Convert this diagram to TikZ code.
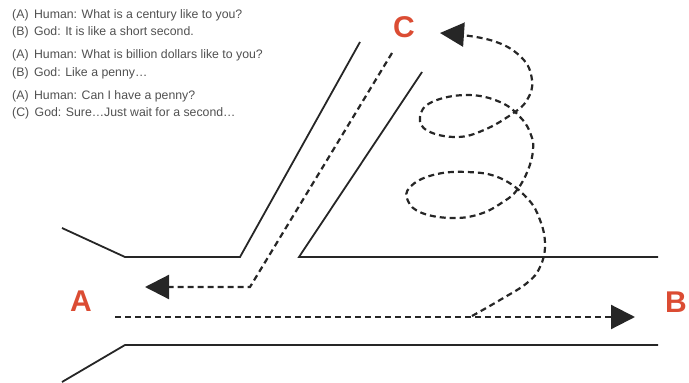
\documentclass[tikz,border=0pt]{standalone}
\usepackage{fontspec}
\setmainfont{Liberation Sans}
\usetikzlibrary{arrows.meta}
\definecolor{labelred}{HTML}{DB4C33}
\definecolor{textgrey}{HTML}{505050}

\begin{document}
\begin{tikzpicture}[x=1pt,y=-1pt,>={Triangle[length=24pt,width=24pt]}]
        \tikzset{road/.style={line width=1.8pt, black!85},
                 route/.style={line width=2.2pt, black!85, dash pattern=on 6pt off 4pt},
                 place/.style={text=labelred, inner sep=0pt, font=\fontsize{30}{30}\selectfont\bfseries},
                 talk/.style={anchor=west, inner sep=0pt, text=textgrey, font=\fontsize{12.3}{14}\selectfont}}
        \useasboundingbox (0,0) rectangle (689,383);
        % dialogue
        \node[talk] (l1) at (12,15) {(A)\, Human: What is a century like to you?};
        \node[talk] (l2) at (12,32) {(B)\, God: It is like a short second.};
        \node[talk] (l3) at (12,55) {(A)\, Human: What is billion dollars like to you?};
        \node[talk] (l4) at (12,73) {(B)\, God: Like a penny\dots};
        \node[talk] (l5) at (12,96) {(A)\, Human: Can I have a penny?};
        \node[talk] (l6) at (12,113) {(C)\, God: Sure\dots Just wait for a second\dots};
        % roads
        \draw[road] (62,228) -- (125,257) -- (240,257) -- (360,42);
        \draw[road] (422,72) -- (299,257) -- (658,257);
        \draw[road] (62,382) -- (125,345) -- (658,345);
        % places
        \node[place] (a) at (81,301) {A};
        \node[place] (b) at (676,302) {B};
        \node[place] (c) at (404,27) {C};
        % routes
        \coordinate (ab0) at (115,317);
        \coordinate (ab1) at (635,317);
        \coordinate (ca0) at (392,53);
        \coordinate (ca1) at (250,287);
        \coordinate (ca2) at (145,287);
        \coordinate (sp0) at (472,316);
        \coordinate (sp1) at (440,33);
        \draw[route,->] (ab0) -- (ab1);
        \draw[route,->] (ca0) -- (ca1) -- (ca2);
        \draw[route,->] plot[smooth,tension=0.7] coordinates {(sp0) (500,300) (527,283) (540,267) (545,245)
            (540,220) (527,198) (500,178) (467,172) (433,175) (410,187) (408,201) (422,213) (452,218)
            (480,214) (503,202) (517,190) (528,170) (533,150) (531,135) (521,118) (500,102) (467,95)
            (432,102) (420,117) (428,131) (457,137) (484,130) (512,114) (527,100) (532,80) (521,57)
            (490,40) (sp1)};
\end{tikzpicture}
\end{document}
